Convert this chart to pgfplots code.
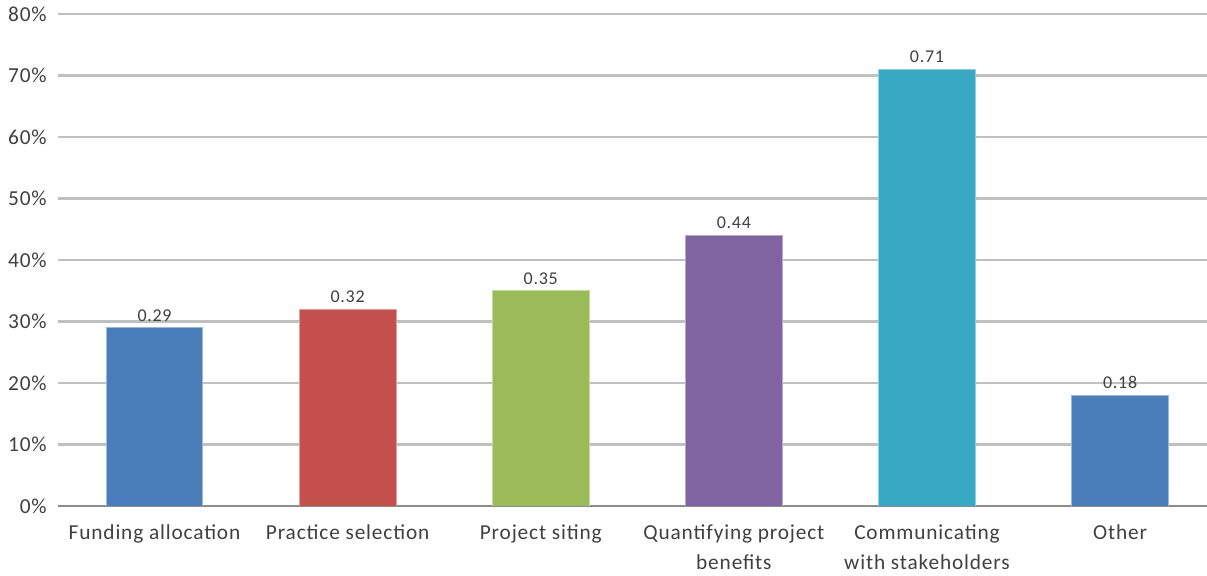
\documentclass[border=0pt]{standalone}
\usepackage{fontspec}
\setmainfont{Carlito}[LetterSpace=4.0]
\usepackage{pgfplots}
\pgfplotsset{compat=1.18}

\definecolor{barblue}{HTML}{4A7EBB}
\definecolor{barred}{HTML}{C4504D}
\definecolor{bargreen}{HTML}{9BBB59}
\definecolor{barpurple}{HTML}{8064A2}
\definecolor{barcyan}{HTML}{38A9C4}
\definecolor{gridgray}{HTML}{C0C0C0}
\definecolor{axisgray}{HTML}{8C8C8C}
\definecolor{labelgray}{HTML}{404040}

% strut that gives every category label the same first-line height
\newcommand{\lblstrut}{\rule{0pt}{11pt}}

\begin{document}
\begin{tikzpicture}
\path[use as bounding box] (0,0) rectangle (905.25pt,431.25pt);
\begin{axis}[
  at={(43.5pt,51.75pt)}, anchor=south west,
  scale only axis, width=861.75pt, height=369pt,
  xmin=-0.5, xmax=5.45, ymin=0, ymax=0.8,
  ybar, bar width=0.5,
  axis x line=bottom, axis y line=left,
  x axis line style={-, draw=axisgray, line width=1.4pt},
  y axis line style={draw=none},
  ytick={0,0.1,0.2,0.3,0.4,0.5,0.6,0.7,0.8},
  yticklabels={0\%,10\%,20\%,30\%,40\%,50\%,60\%,70\%,80\%},
  xtick={0,1,2,3,4,5},
  xticklabels={\lblstrut Funding allocation, \lblstrut Practice selection,
    \lblstrut Project siting, \lblstrut Quantifying project\\benefits,
    \lblstrut Communicating\\with stakeholders, \lblstrut Other},
  major tick length=0pt,
  ymajorgrids, grid style={draw=gridgray, line width=1.9pt},
  /pgf/number format/assume math mode=true,
  yticklabel style={anchor=east, inner sep=0pt, xshift=-8.25pt,
    font=\fontsize{16pt}{19pt}\selectfont, text=labelgray},
  xticklabel style={anchor=north, align=center, inner sep=0pt,
    yshift=-13.75pt,
    font=\fontsize{16pt}{22.5pt}\selectfont, text=labelgray},
  nodes near coords,
  point meta=y,
  nodes near coords style={anchor=south, inner sep=0pt, yshift=4.5pt,
    font=\fontsize{13.5pt}{16pt}\selectfont, text=labelgray,
    /pgf/number format/.cd, fixed, fixed zerofill, precision=2},
  every axis plot/.append style={bar shift=0pt, line width=0.6pt},
]
\addplot[fill=barblue, draw=barblue!55!white] coordinates {(0,0.29)};
\addplot[fill=barred, draw=barred!55!white] coordinates {(1,0.32)};
\addplot[fill=bargreen, draw=bargreen!55!white] coordinates {(2,0.35)};
\addplot[fill=barpurple, draw=barpurple!55!white] coordinates {(3,0.44)};
\addplot[fill=barcyan, draw=barcyan!55!white] coordinates {(4,0.71)};
\addplot[fill=barblue, draw=barblue!55!white] coordinates {(5,0.18)};
\end{axis}
\end{tikzpicture}
\end{document}
